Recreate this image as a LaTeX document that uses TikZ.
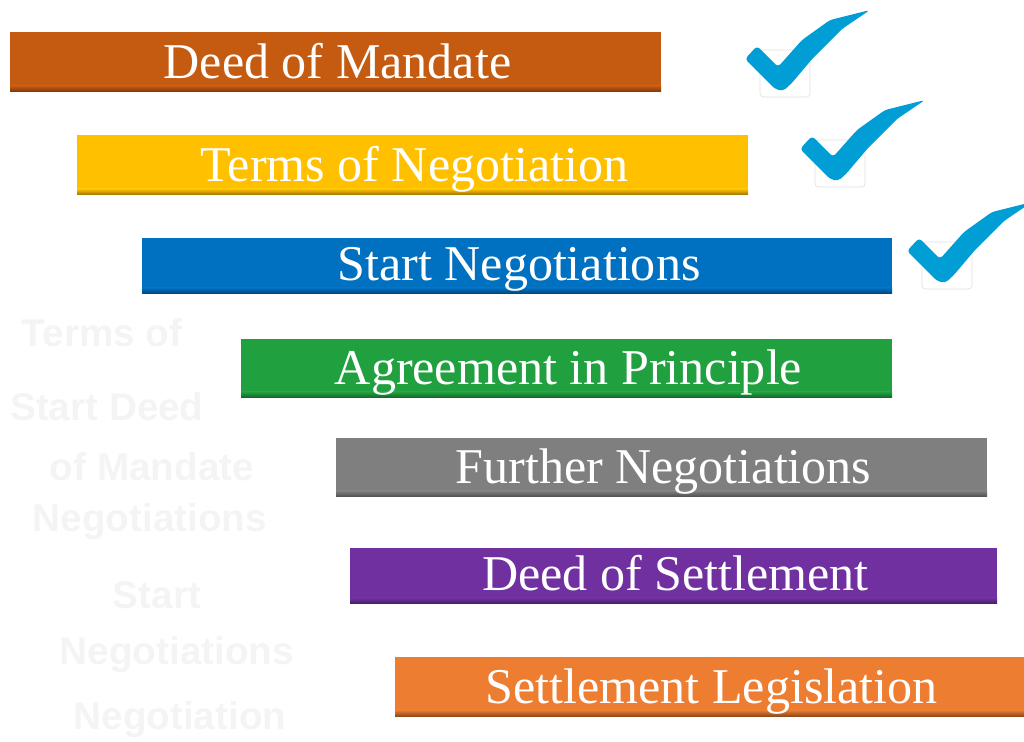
\documentclass[tikz,border=0pt]{standalone}
\usepackage{fontspec}
\setmainfont{Liberation Serif}
\newfontfamily\ghostfont{Liberation Sans}
\usepackage{tikz}
\definecolor{barrust}{RGB}{197,90,17}
\definecolor{bargold}{RGB}{255,192,0}
\definecolor{barblue}{RGB}{0,112,192}
\definecolor{bargreen}{RGB}{33,160,64}
\definecolor{bargray}{RGB}{127,127,127}
\definecolor{barpurple}{RGB}{112,48,160}
\definecolor{barorange}{RGB}{237,125,49}
\definecolor{tickblue}{RGB}{0,158,212}
\definecolor{ghosttext}{RGB}{244,244,244}

\tikzset{
  bartext/.style={white, font=\fontsize{28.5}{32}\selectfont, inner sep=0pt, anchor=base},
  ghostline/.style={ghosttext, font=\ghostfont\bfseries\fontsize{22}{24}\selectfont, inner sep=0pt},
  tick/.pic={
    \begin{scope}[x=1cm, y=1cm]
    % faint box behind the tick
    \draw[black!12, rounded corners=2pt] (-0.4,-0.24) rectangle (0.6,0.7);
    % brush stroke
    \fill[tickblue, rounded corners=2pt] (-0.7,0.52) -- (-0.46,0.78) -- (-0.04,0.36)
      -- (0.44,0.9) -- (1.0,1.3) -- (1.8,1.5) -- (1.24,1.12) -- (0.66,0.54)
      -- (0.22,0.02) -- (0.06,-0.12) -- (-0.1,-0.08) -- cycle;
    \end{scope}
  }
}

\begin{document}
\begin{tikzpicture}[x=0.02cm, y=-0.02cm]
    \useasboundingbox (0,0) rectangle (1024,742);
    % Faint text behind the steps
    \node[ghostline] (g1) at (102,333) {Terms of};
    \node[ghostline] (g2) at (107,407) {Start Deed};
    \node[ghostline] (g3) at (152,467) {of Mandate};
    \node[ghostline] (g4) at (150,522) {Negotiations};
    \node[ghostline] (g5) at (157,595) {Start};
    \node[ghostline] (g6) at (177,655) {Negotiations};
    \node[ghostline] (g7) at (180,720) {Negotiation};
    % Step bars
    \foreach \name/\xa/\ya/\xb/\yb/\col/\txt in {
        mandate/10/32/661/92/barrust/Deed of Mandate,
        terms/77/135/748/195/bargold/Terms of Negotiation,
        start/142/238/892/294/barblue/Start Negotiations,
        principle/241/339/892/398/bargreen/Agreement in Principle,
        further/336/438/987/497/bargray/Further Negotiations,
        settlement/350/548/997/604/barpurple/Deed of Settlement,
        legislation/395/657/1024/716/barorange/Settlement Legislation} {
      \fill[\col] (\xa,\ya) rectangle (\xb,\yb);
      \shade[top color=\col, bottom color=\col!60!black] (\xa,\yb-6) rectangle (\xb,\yb);
      \node[bartext] (\name) at ({(\xa+\xb)/2+2},\yb-13) {\txt};
    }
    % Ticks for the steps already done
    \pic at (780,85) {tick};
    \pic at (835,175) {tick};
    \pic at (942,277) {tick};
\end{tikzpicture}
\end{document}
